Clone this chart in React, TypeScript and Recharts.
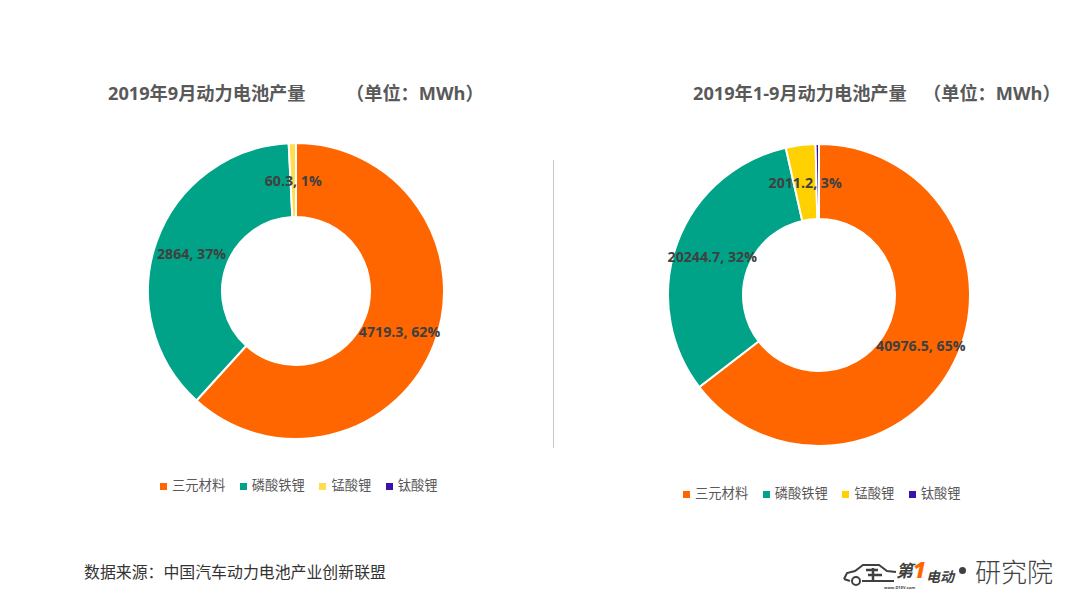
import React from "react";
import { PieChart, Pie, Legend } from "recharts";

const materials = ["三元材料", "磷酸铁锂", "锰酸锂", "钛酸锂"];
const septemberValues = [4719.3, 2864, 60.3, 0];
const januaryToSeptemberValues = [40976.5, 20244.7, 2011.2, 230];
const septemberColors = ["#ff6600", "#00a387", "#ffdd4d", "#3a14a8"];
const januaryToSeptemberColors = ["#ff6600", "#00a387", "#ffd100", "#3a14a8"];

const FONT = '"Open Sans", "Noto Sans CJK SC", sans-serif';
const RADIAN = Math.PI / 180;

const buildRows = (values: number[], colors: string[]) =>
  materials.map((name, i) => ({ name, value: values[i], fill: colors[i] }));

// label sits in the middle of the ring, tiny slices get none
const renderLabel = (props: any) => {
  const { cx, cy, midAngle, innerRadius, outerRadius, value, percent } = props;
  if (percent < 0.005) return null;
  const r = (innerRadius + outerRadius) / 2;
  return (
    <text
      x={cx + r * Math.cos(-midAngle * RADIAN)}
      y={cy + r * Math.sin(-midAngle * RADIAN)}
      textAnchor="middle"
      dominantBaseline="central"
      fontFamily={FONT}
      fontSize={14.2}
      fontWeight={700}
      fill="#404040"
    >
      {`${value}, ${Math.round(percent * 100)}%`}
    </text>
  );
};

const legendText = (value: string) => (
  <span style={{ color: "#595959", fontSize: 13.3, fontFamily: FONT, marginLeft: 1, marginRight: 4.5 }}>
    {value}
  </span>
);

type DonutProps = {
  rows: { name: string; value: number; fill: string }[];
  left: number;
  cx: number;
  cy: number;
  inner: number;
  outer: number;
  legendLeft: number;
  legendTop: number;
};

const Donut = ({ rows, left, cx, cy, inner, outer, legendLeft, legendTop }: DonutProps) => (
  <div style={{ position: "absolute", left, top: 0 }}>
    <PieChart width={540} height={540} margin={{ top: 0, right: 0, bottom: 0, left: 0 }}>
      <Pie
        data={rows}
        dataKey="value"
        nameKey="name"
        cx={cx}
        cy={cy}
        innerRadius={inner}
        outerRadius={outer}
        startAngle={90}
        endAngle={-270}
        stroke="#ffffff"
        strokeWidth={2}
        label={renderLabel}
        labelLine={false}
        isAnimationActive={false}
      />
      <Legend
        layout="horizontal"
        align="left"
        verticalAlign="bottom"
        iconType="square"
        iconSize={7}
        itemSorter={null}
        formatter={legendText}
        wrapperStyle={{ left: legendLeft, top: legendTop, bottom: "auto", width: 340, textAlign: "left" }}
      />
    </PieChart>
  </div>
);

const titleStyle: React.CSSProperties = {
  position: "absolute",
  top: 80,
  fontFamily: FONT,
  fontSize: 18.2,
  fontWeight: 700,
  lineHeight: "26px",
  color: "#595959",
  whiteSpace: "nowrap",
};

const logoText: React.CSSProperties = {
  position: "absolute",
  fontFamily: FONT,
  color: "#404040",
  whiteSpace: "nowrap",
};

const Logo = () => (
  <div style={{ position: "absolute", left: 842, top: 556, width: 215, height: 34 }}>
    <svg width={56} height={32} style={{ position: "absolute", left: 0, top: 0 }}>
      <path
        d="M2 23 L5 17 L13 15 L21 9 L37 9 L45 15 L54 16 M2 23 L8 25 M20 25 L52 25"
        fill="none"
        stroke="#404040"
        strokeWidth={2}
      />
      <circle cx={14} cy={25} r={4} fill="none" stroke="#404040" strokeWidth={2} />
      <path d="M24 14 H36 M26 19 H40 M31 12 V25" stroke="#404040" strokeWidth={2.5} fill="none" />
    </svg>
    <span style={{ ...logoText, left: 54, top: 5, fontSize: 17, lineHeight: "20px", fontWeight: 700, fontStyle: "italic" }}>
      第
    </span>
    <span
      style={{
        ...logoText,
        left: 71,
        top: 1,
        fontSize: 22,
        lineHeight: "24px",
        fontWeight: 800,
        fontStyle: "italic",
        color: "#ff6600",
      }}
    >
      1
    </span>
    <span style={{ ...logoText, left: 84, top: 12, fontSize: 14, lineHeight: "17px", fontWeight: 700, fontStyle: "italic" }}>
      电动
    </span>
    <span style={{ ...logoText, left: 42, top: 29, fontSize: 4, lineHeight: "5px", fontWeight: 700 }}>
      www.D1EV.com
    </span>
    <div
      style={{
        position: "absolute",
        left: 117,
        top: 11,
        width: 7,
        height: 7,
        borderRadius: 4,
        background: "#404040",
      }}
    />
    <span style={{ ...logoText, left: 133, top: 1, fontSize: 26, lineHeight: "30px", fontWeight: 300 }}>
      研究院
    </span>
  </div>
);

export default function App() {
  return (
    <div
      style={{
        position: "absolute",
        left: 0,
        top: 0,
        width: 1080,
        height: 608,
        background: "#ffffff",
        overflow: "hidden",
      }}
    >
      <Donut
        rows={buildRows(septemberValues, septemberColors)}
        left={0}
        cx={296}
        cy={291}
        inner={74}
        outer={148}
        legendLeft={160}
        legendTop={475}
      />
      <Donut
        rows={buildRows(januaryToSeptemberValues, januaryToSeptemberColors)}
        left={540}
        cx={279}
        cy={295}
        inner={76}
        outer={151}
        legendLeft={143}
        legendTop={483}
      />

      <div style={{ ...titleStyle, left: 108 }}>2019年9月动力电池产量</div>
      <div style={{ ...titleStyle, left: 346 }}>（单位：MWh）</div>
      <div style={{ ...titleStyle, left: 693 }}>2019年1-9月动力电池产量</div>
      <div style={{ ...titleStyle, left: 923 }}>（单位：MWh）</div>

      <div
        style={{
          position: "absolute",
          left: 553,
          top: 160,
          width: 1,
          height: 288,
          background: "#c8c8c8",
        }}
      />

      <div
        style={{
          position: "absolute",
          left: 84,
          top: 561,
          fontFamily: FONT,
          fontSize: 15.9,
          lineHeight: "22px",
          color: "#333333",
          whiteSpace: "nowrap",
        }}
      >
        数据来源：中国汽车动力电池产业创新联盟
      </div>
      <Logo />
    </div>
  );
}
